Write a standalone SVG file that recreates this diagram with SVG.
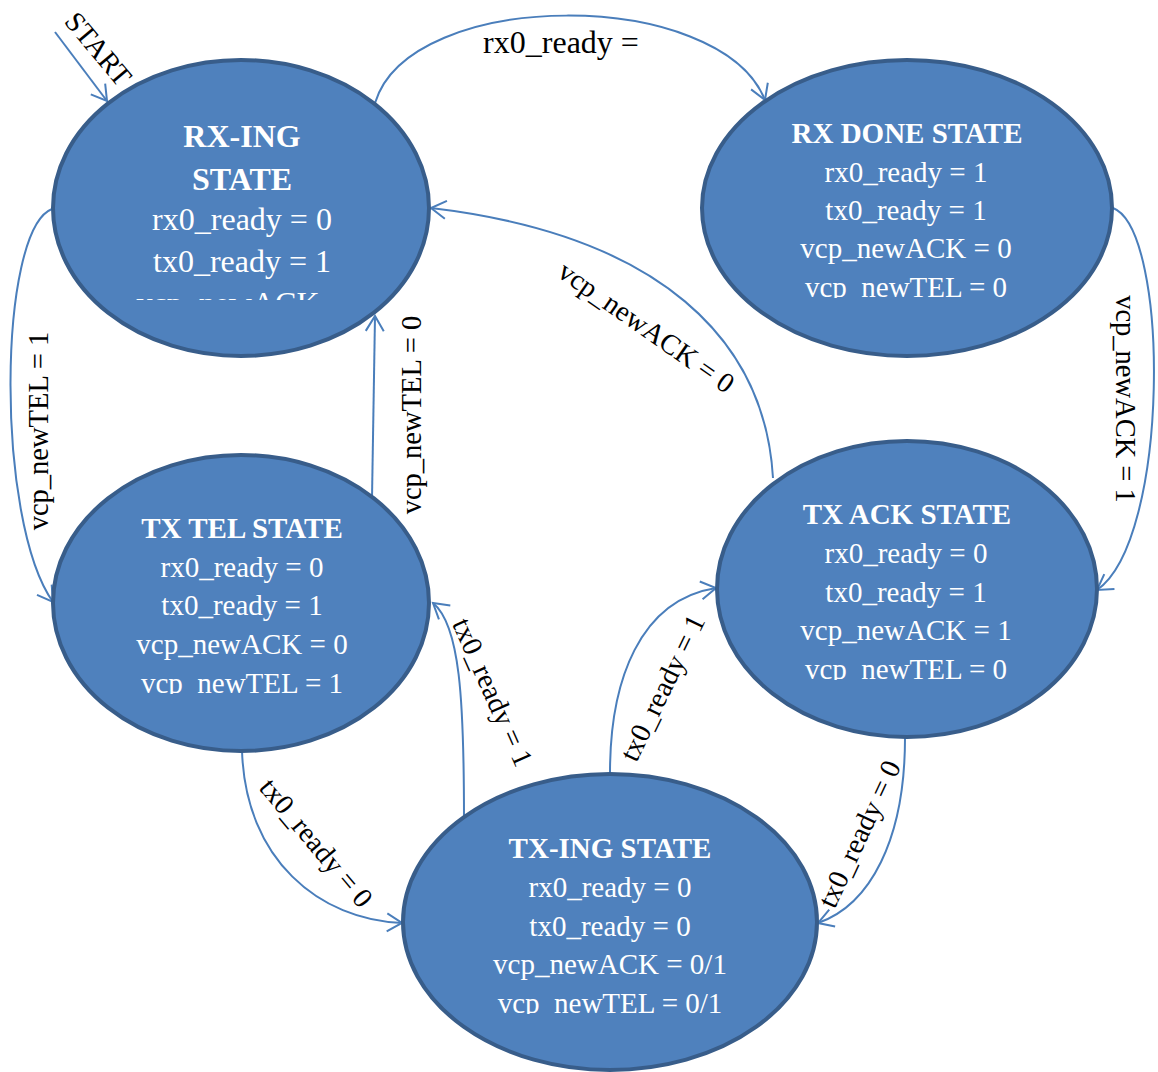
<svg xmlns="http://www.w3.org/2000/svg" width="1158" height="1072" viewBox="0 0 1158 1072">
  <style>
    .state { fill: #4f81bd; stroke: #385d8a; stroke-width: 4; }
    .nt { font-family: "Liberation Serif", "Times New Roman", serif; fill: #ffffff; text-anchor: middle; font-size: 29px; }
    .nt.big { font-size: 32px; }
    .ttl { font-weight: bold; }
    .edge { fill: none; stroke: #4a7ebb; stroke-width: 2; marker-end: url(#arrow); }
    .lbl { font-family: "Liberation Serif", "Times New Roman", serif; fill: #000000; text-anchor: middle; font-size: 28.5px; }
  </style>
  <defs>
    <marker id="arrow" markerUnits="userSpaceOnUse" markerWidth="30" markerHeight="30" refX="0" refY="0" viewBox="-20 -15 25 30" orient="auto" overflow="visible">
      <path d="M-15,-9 L0,0 L-15,9" fill="none" stroke="#4a7ebb" stroke-width="2"/>
    </marker>
    <!-- text boxes cut off the last line of each state -->
    <clipPath id="clipRxing"><rect x="0" y="0" width="1158" height="300"/></clipPath>
    <clipPath id="clipRxdone"><rect x="0" y="0" width="1158" height="298"/></clipPath>
    <clipPath id="clipTxtel"><rect x="0" y="0" width="1158" height="694"/></clipPath>
    <clipPath id="clipTxack"><rect x="0" y="0" width="1158" height="680"/></clipPath>
    <clipPath id="clipTxing"><rect x="0" y="0" width="1158" height="1014"/></clipPath>
  </defs>

  <!-- transitions -->
  <g id="connectors">
    <path id="e-start" class="edge" d="M55,32 L107,101"/>
    <path id="e-rxing-rxdone" class="edge" d="M375,103 C410,-13 720,-13 765,100"/>
    <path id="e-rxdone-txack" class="edge" d="M1113,208 C1170,230 1170,540 1097,590"/>
    <path id="e-txack-rxing" class="edge" d="M773,478 C765,340 660,235 431,208"/>
    <path id="e-rxing-txtel" class="edge" d="M52,209 C-2,230 -5,520 53,602"/>
    <path id="e-txtel-rxing" class="edge" d="M372,498 C373,440 374,380 375,316"/>
    <path id="e-txing-txtel" class="edge" d="M464,818 C464,700 460,625 433,603"/>
    <path id="e-txtel-txing" class="edge" d="M242,750 C245,860 320,920 402,923"/>
    <path id="e-txing-txack" class="edge" d="M610,773 C610,680 640,600 716,588"/>
    <path id="e-txack-txing" class="edge" d="M905,738 C905,840 870,905 818,923"/>
  </g>

  <!-- transition labels -->
  <g id="labels">
    <text class="lbl" transform="translate(91,55) rotate(50)">START</text>
    <text class="lbl" x="561" y="53" style="font-size:32px">rx0_ready =</text>
    <text class="lbl" transform="translate(1116,399) rotate(90)">vcp_newACK = 1</text>
    <text class="lbl" transform="translate(641,335) rotate(35)">vcp_newACK = 0</text>
    <text class="lbl" transform="translate(48,431) rotate(-90)">vcp_newTEL = 1</text>
    <text class="lbl" transform="translate(421,415) rotate(-90)">vcp_newTEL = 0</text>
    <text class="lbl" transform="translate(484,696) rotate(66)">tx0_ready = 1</text>
    <text class="lbl" transform="translate(309,849) rotate(50)">tx0_ready = 0</text>
    <text class="lbl" transform="translate(671,692) rotate(-64)">tx0_ready = 1</text>
    <text class="lbl" transform="translate(868,838) rotate(-65)">tx0_ready = 0</text>
  </g>

  <!-- states -->
  <g id="rx-ing">
    <ellipse class="state" cx="241" cy="208" rx="188" ry="148"/>
    <g clip-path="url(#clipRxing)">
      <text class="nt big ttl" x="242" y="147">RX-ING</text>
      <text class="nt big ttl" x="242" y="190">STATE</text>
      <text class="nt big" x="242" y="230">rx0_ready = 0</text>
      <text class="nt big" x="242" y="272">tx0_ready = 1</text>
      <text class="nt big" x="228" y="314">vcp_newACK</text>
    </g>
  </g>

  <g id="rx-done">
    <ellipse class="state" cx="907" cy="208" rx="205" ry="148"/>
    <g clip-path="url(#clipRxdone)">
      <text class="nt ttl" x="907" y="143">RX DONE STATE</text>
      <text class="nt" x="906" y="182">rx0_ready = 1</text>
      <text class="nt" x="906" y="220">tx0_ready = 1</text>
      <text class="nt" x="906" y="258">vcp_newACK = 0</text>
      <text class="nt" x="906" y="297">vcp_newTEL = 0</text>
    </g>
  </g>

  <g id="tx-tel">
    <ellipse class="state" cx="241" cy="603" rx="188" ry="148"/>
    <g clip-path="url(#clipTxtel)">
      <text class="nt ttl" x="242" y="538">TX TEL STATE</text>
      <text class="nt" x="242" y="577">rx0_ready = 0</text>
      <text class="nt" x="242" y="615">tx0_ready = 1</text>
      <text class="nt" x="242" y="654">vcp_newACK = 0</text>
      <text class="nt" x="242" y="693">vcp_newTEL = 1</text>
    </g>
  </g>

  <g id="tx-ack">
    <ellipse class="state" cx="907" cy="589" rx="190" ry="148"/>
    <g clip-path="url(#clipTxack)">
      <text class="nt ttl" x="907" y="524">TX ACK STATE</text>
      <text class="nt" x="906" y="563">rx0_ready = 0</text>
      <text class="nt" x="906" y="602">tx0_ready = 1</text>
      <text class="nt" x="906" y="640">vcp_newACK = 1</text>
      <text class="nt" x="906" y="679">vcp_newTEL = 0</text>
    </g>
  </g>

  <g id="tx-ing">
    <ellipse class="state" cx="610" cy="922" rx="207" ry="148"/>
    <g clip-path="url(#clipTxing)">
      <text class="nt ttl" x="610" y="858">TX-ING STATE</text>
      <text class="nt" x="610" y="897">rx0_ready = 0</text>
      <text class="nt" x="610" y="936">tx0_ready = 0</text>
      <text class="nt" x="610" y="974">vcp_newACK = 0/1</text>
      <text class="nt" x="610" y="1013">vcp_newTEL = 0/1</text>
    </g>
  </g>
</svg>
